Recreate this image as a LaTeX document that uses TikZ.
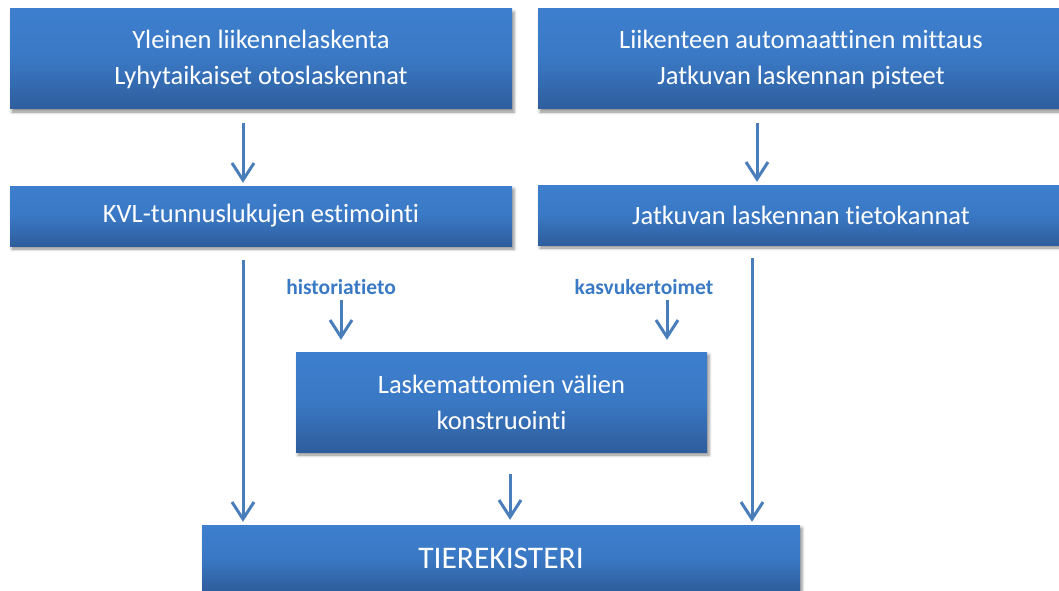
\documentclass[tikz,border=0pt]{standalone}
\usepackage{fontspec}
\setmainfont{Carlito}[Ligatures=CommonOff]
\usetikzlibrary{arrows.meta,shadows.blur}
\definecolor{boxtop}{RGB}{61,127,206}
\definecolor{boxbot}{RGB}{46,93,156}
\definecolor{arrcol}{RGB}{74,126,187}
\definecolor{labcol}{RGB}{58,122,196}
\tikzset{
  box/.style={rectangle, top color=boxtop, bottom color=boxbot, middle color=boxtop!80!boxbot,
    text=white, align=center, inner sep=0pt, font=\fontsize{26.5}{36}\selectfont,
    blur shadow={shadow xshift=2pt, shadow yshift=-3pt, shadow blur radius=3pt, shadow opacity=45}},
  arr/.style={draw=arrcol, line width=3pt, -{Straight Barb[length=17pt,width=22pt,line width=3pt]}},
  lab/.style={text=labcol, font=\bfseries\fontsize{21.5}{24}\selectfont, inner sep=0pt}
}
\begin{document}
\begin{tikzpicture}[x=1pt,y=-1pt]
\useasboundingbox (0,0) rectangle (1059,591);
\node[box, minimum width=502pt, minimum height=100pt] (b1) at (261,59) {Yleinen liikennelaskenta\\Lyhytaikaiset otoslaskennat};
\node[box, minimum width=526pt, minimum height=100pt] (b2) at (801,59) {Liikenteen automaattinen mittaus\\Jatkuvan laskennan pisteet};
\node[box, minimum width=502pt, minimum height=60pt] (b3) at (261,216) {KVL-tunnuslukujen estimointi};
\node[box, minimum width=526pt, minimum height=60pt] (b4) at (801,215) {Jatkuvan laskennan tietokannat};
\node[box, minimum width=411pt, minimum height=100pt] (b5) at (501.5,402) {Laskemattomien välien\\konstruointi};
\node[box, minimum width=598pt, minimum height=66pt, font=\fontsize{31.5}{36}\selectfont] (b6) at (501,558) {TIEREKISTERI};
\node[lab] (l1) at (341,287) {historiatieto};
\node[lab] (l2) at (644,287) {kasvukertoimet};
\coordinate (xa) at (243,0);
\coordinate (xb) at (757,0);
\coordinate (xc) at (752,0);
\coordinate (xd) at (510,0);
\coordinate (xe) at (341,0);
\coordinate (xf) at (667,0);
\draw[arr, shorten <=14pt, shorten >=3pt] (b1.south -| xa) -- (b3.north -| xa);
\draw[arr, shorten <=14pt, shorten >=3pt] (b2.south -| xb) -- (b4.north -| xb);
\draw[arr, shorten <=14pt, shorten >=3pt] (b3.south -| xa) -- (b6.north -| xa);
\draw[arr, shorten <=13pt, shorten >=3pt] (b4.south -| xc) -- (b6.north -| xc);
\draw[arr, shorten <=22pt, shorten >=5pt] (b5.south -| xd) -- (b6.north -| xd);
\draw[arr, shorten <=5pt, shorten >=12pt] (l1.south -| xe) -- (b5.north -| xe);
\draw[arr, shorten <=5pt, shorten >=12pt] (l2.south -| xf) -- (b5.north -| xf);
\end{tikzpicture}
\end{document}
